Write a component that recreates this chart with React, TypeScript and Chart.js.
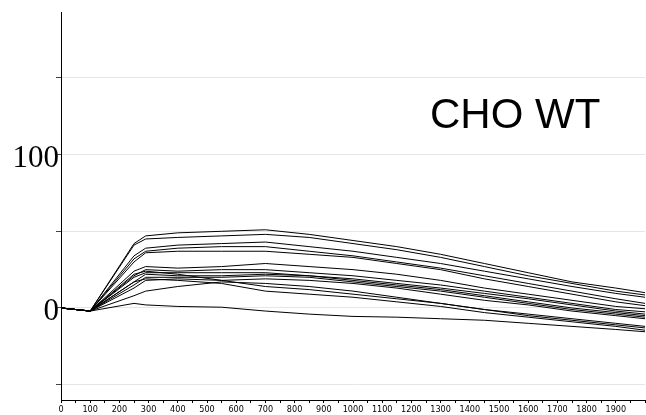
import { useEffect, useRef } from 'react';
import { Chart, registerables } from 'chart.js';

Chart.register(...registerables);

// Sampling times (x axis)
const timePoints = [0, 100, 250, 290, 400, 550, 700, 850, 1000, 1150, 1300, 1450, 1600, 1750, 1900, 2000];

// Individual cell traces
const cell01 = [0, -2, 42, 47, 49, 50, 51, 48, 44, 40, 35, 29, 23, 17, 13, 10];
const cell02 = [0, -2, 41, 45, 46, 47, 48, 46, 42, 38, 33, 27, 21, 16, 11, 8.5];
const cell03 = [0, -2, 34, 39, 41, 42, 43, 40, 37, 33, 29, 24, 19, 14, 9.5, 7];
const cell04 = [0, -2, 32, 37, 39, 40, 40, 37, 34, 30, 26, 21, 16, 11, 6, 3];
const cell05 = [0, -2, 30, 36, 37, 37, 37, 35, 33, 29, 25, 19, 14, 9, 4, 1.5];
const cell06 = [0, -2, 24, 27, 26, 27, 29, 27, 25, 22, 18, 13, 9, 5, 1, -0.5];
const cell07 = [0, -2, 21, 25, 24, 25, 25, 23, 21, 18, 15, 11, 7, 3, -1, -2.5];
const cell08 = [0, -2, 20, 23, 23, 23, 23, 21, 19, 16, 13, 9.5, 6, 2, -2, -4];
const cell09 = [0, -2, 17, 22, 21, 21, 22, 21, 18, 15, 12, 8, 4, 0, -3, -5];
const cell10 = [0, -2, 15, 20, 20, 20, 21, 20, 17, 14, 11, 7, 3, -1, -4, -6];
const cell11 = [0, -2, 13, 18, 19, 18, 19, 18, 16, 13, 9, 5, 2, -2, -5, -7];
const cell12 = [0, -2, 22, 24, 22, 18, 14, 12, 9, 6, 3, -1, -4, -7, -10, -12];
const cell13 = [0, -2, 17, 19, 18, 16, 11, 9, 7, 4, 1, -3, -6, -9, -12, -14.5];
const cell14 = [0, -2, 8, 11, 14, 17, 16, 14, 11, 7, 3, -1, -5, -8, -11, -13];
const cell15 = [0, -2, 3, 2, 1, 0.5, -2, -4, -5.5, -6, -7, -8, -10, -12, -14, -15.5];

const traces = [
  cell01, cell02, cell03, cell04, cell05, cell06, cell07, cell08,
  cell09, cell10, cell11, cell12, cell13, cell14, cell15,
];

// Axis ticks
const yGridValues = [-50, 0, 50, 100, 150];
const yLabelValues = [0, 100];
const xTickValues = [
  0, 50, 100, 150, 200, 250, 300, 350, 400, 450, 500, 550, 600, 650, 700, 750, 800, 850, 900, 950,
  1000, 1050, 1100, 1150, 1200, 1250, 1300, 1350, 1400, 1450, 1500, 1550, 1600, 1650, 1700, 1750,
  1800, 1850, 1900, 1950, 2000,
];
const xLabelValues = [
  0, 100, 200, 300, 400, 500, 600, 700, 800, 900, 1000, 1100, 1200, 1300, 1400, 1500, 1600, 1700,
  1800, 1900,
];

const panelTitle = 'CHO WT';

const overlayText = {
  id: 'overlayText',
  afterDraw(chart: any) {
    const { ctx, chartArea } = chart;
    const y = chart.scales.y;
    ctx.save();
    ctx.fillStyle = '#000';
    ctx.font = '31px "Liberation Serif", "Times New Roman", serif';
    ctx.textAlign = 'right';
    ctx.textBaseline = 'alphabetic';
    for (const v of yLabelValues) {
      ctx.fillText(String(v), chartArea.left - 2, y.getPixelForValue(v) + 12);
    }
    ctx.font = '42px "Liberation Sans", Arial, sans-serif';
    ctx.textAlign = 'left';
    ctx.fillText(panelTitle, 430, 128);
    ctx.restore();
  },
};

export default function App() {
  const canvasRef = useRef<HTMLCanvasElement | null>(null);

  useEffect(() => {
    if (!canvasRef.current) return;
    const chart = new Chart(canvasRef.current, {
      type: 'line',
      data: {
        datasets: traces.map((trace, i) => ({
          label: `cell ${i + 1}`,
          data: trace.map((v, j) => ({ x: timePoints[j], y: v })),
          borderColor: '#000',
          borderWidth: 1,
          pointRadius: 0,
          tension: 0,
          fill: false,
        })),
      },
      options: {
        responsive: false,
        animation: false,
        devicePixelRatio: 1,
        layout: { padding: { top: 12, right: 1, left: 0, bottom: 0 } },
        plugins: {
          legend: { display: false },
          tooltip: { enabled: false },
        },
        scales: {
          x: {
            type: 'linear',
            min: 0,
            max: 2000,
            afterBuildTicks: (scale: any) => {
              scale.ticks = xTickValues.map((value) => ({ value }));
            },
            afterFit: (scale: any) => {
              scale.height = 15;
            },
            border: { display: true, color: '#000', width: 1 },
            grid: {
              drawOnChartArea: false,
              drawTicks: true,
              tickLength: 3,
              tickColor: '#000',
            },
            ticks: {
              autoSkip: false,
              maxRotation: 0,
              minRotation: 0,
              padding: 1,
              color: '#000',
              font: { family: '"DejaVu Sans Condensed", "Liberation Sans Narrow", "DejaVu Sans", sans-serif', size: 9 },
              callback: (value: any) => (xLabelValues.includes(Number(value)) ? String(value) : ''),
            },
          },
          y: {
            type: 'linear',
            min: -60,
            max: 193,
            afterBuildTicks: (scale: any) => {
              scale.ticks = yGridValues.map((value) => ({ value }));
            },
            afterFit: (scale: any) => {
              scale.width = 61;
            },
            border: { display: true, color: '#000', width: 1 },
            grid: {
              color: '#e6e6e6',
              lineWidth: 1,
              drawTicks: true,
              tickLength: 5,
              tickColor: '#444',
            },
            ticks: { display: false },
          },
        },
      },
      plugins: [overlayText],
    });
    return () => chart.destroy();
  }, []);

  return (
    <div style={{ position: 'fixed', left: 0, top: 0, width: 646, height: 415, background: '#fff' }}>
      <canvas ref={canvasRef} width={646} height={415} />
    </div>
  );
}
